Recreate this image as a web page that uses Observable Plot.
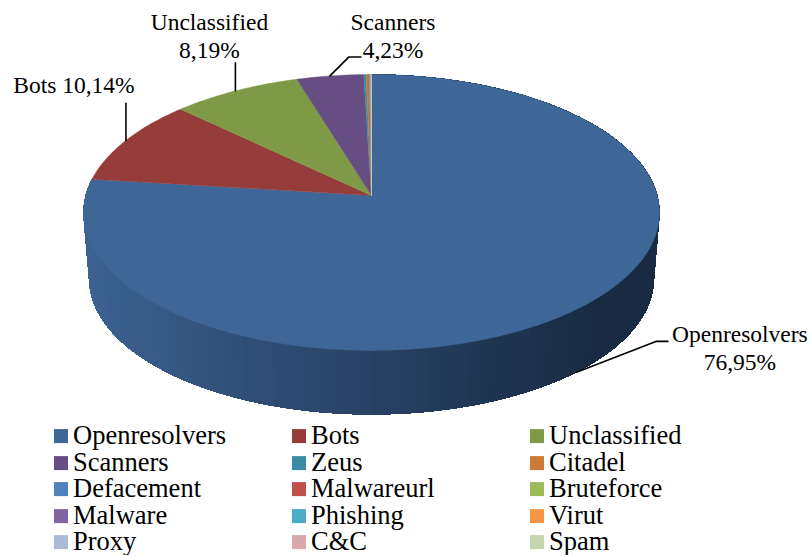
<!DOCTYPE html>
<html><head><meta charset="utf-8">
<script src="https://cdn.jsdelivr.net/npm/d3@7"></script>
<script src="https://cdn.jsdelivr.net/npm/@observablehq/plot@0.6"></script>
<style>
html,body{margin:0;padding:0;background:#fff;overflow:hidden}
#legend{display:grid;grid-template-columns:238px 238px 238px;grid-auto-rows:26.6px;padding-left:54px;height:133px;margin-top:-1.4px;
 font:26.5px "Liberation Serif",serif;color:#000}
#legend div{display:flex;align-items:center;white-space:nowrap}
#legend i{display:block;width:14px;height:14px;margin-right:5px;flex:none;transform:translateY(1.1px)}
#legend span{display:block;line-height:24px;height:24px}
</style></head><body>
<div id="chart"></div><div id="legend"></div>
<script>
const names = ["Openresolvers","Bots","Unclassified","Scanners","Zeus","Citadel","Defacement","Malwareurl","Bruteforce","Malware","Phishing","Virut","Proxy","C&C","Spam"];
const values = [76.95,10.14,8.19,4.23,0.15,0.12,0.03,0.05,0.04,0.02,0.03,0.02,0.01,0.01,0.01];
const colors = ["#3e6797","#963c3a","#7e9a47","#674e82","#3a8ba3","#cc7a35","#4f81bd","#c0504d","#9bbb59","#8064a2","#4bacc6","#f79646","#aabad7","#d9aaa9","#c6d6ac"];

// layout of the tilted disc
const W = 811, H = 423;
const cx = 371, cy = 195, R = 285.8, S = 135.9, k = 0.123, depth = 67, shrink = 0.98;
const project = (a, low) => {
  const u = Math.sin(a), v = -Math.cos(a), s = low ? shrink : 1, p = 1 - k * v;
  return {x: cx + s * R * u / p, y: cy + (low ? depth : 0) + s * S * v / p};
};
const arcs = d3.pie().sort(null).value(d => d)(values).map((d, i) => ({...d, name: names[i]}));
const steps = (a0, a1, n) => d3.range(n + 1).map(i => a0 + (a1 - a0) * i / n);

// top faces
const faces = arcs.flatMap(d => {
  const n = Math.max(2, Math.ceil((d.endAngle - d.startAngle) * 60));
  const pts = steps(d.startAngle, d.endAngle, n).map(a => project(a, false));
  return [{x: cx, y: cy}, ...pts, {x: cx, y: cy}].map(p => ({...p, name: d.name}));
});

// side wall of the front slice, shaded from left to right
const shade = d3.scaleLinear().domain([84, 250, 371, 500, 600, 659])
  .range(["#3d6291", "#2f4e76", "#284264", "#1e3450", "#182b43", "#182b43"]).clamp(true);
const wall = (() => {
  const d = arcs[0], as = steps(d.startAngle, d.endAngle, 140), out = [];
  as.slice(0, -1).forEach((a, i) => {
    const b = as[i + 1], t0 = project(a, false), t1 = project(b, false), b0 = project(a, true), b1 = project(b, true);
    const c = shade((t0.x + t1.x) / 2);
    [t0, t1, b1, b0, t0].forEach(p => out.push({...p, key: i, c}));
  });
  return out;
})();

// leader lines start at the middle of each slice's rim; bends are offsets from that point
const mid = d => (d.startAngle + d.endAngle) / 2;
const label = (i, oneLine) => names[i] + (oneLine ? " " : "\n") + values[i].toFixed(2).replace(".", ",") + "%";
const callouts = [
  {i: 0, low: true,  bend: [80, -31], end: [92, -31], text: [164, -25], oneLine: false},
  {i: 1, low: false, bend: [0, -37],  end: [0, -37],  text: [-52, -56], oneLine: true},
  {i: 2, low: false, bend: [0, -28],  end: [0, -28],  text: [-26, -56], oneLine: false},
  {i: 3, low: false, bend: [19, -19], end: [31, -19], text: [63, -41], oneLine: false}
].map(c => ({...c, o: project(mid(arcs[c.i]), c.low)}));
const leaders = callouts.flatMap(c => [
  {x: c.o.x, y: c.o.y, key: c.i},
  {x: c.o.x + c.bend[0], y: c.o.y + c.bend[1], key: c.i},
  {x: c.o.x + c.end[0], y: c.o.y + c.end[1], key: c.i}
]);
const texts = callouts.map(c => ({x: c.o.x + c.text[0], y: c.o.y + c.text[1], t: label(c.i, c.oneLine)}));

const chart = Plot.plot({
  width: W, height: H, margin: 0,
  x: {domain: [0, W], range: [0, W], axis: null},
  y: {domain: [0, H], range: [0, H], axis: null},
  color: {domain: names, range: colors},
  style: {fontFamily: '"Liberation Serif",serif', background: "#fff", color: "#000"},
  marks: [
    Plot.line(wall, {x: "x", y: "y", z: "key", curve: "linear", shapeRendering: "crispEdges",
      fill: {value: "c", scale: null}, stroke: {value: "c", scale: null}, strokeWidth: 1}),
    Plot.line(faces, {x: "x", y: "y", z: "name", curve: "linear", fill: "name", stroke: "name", strokeWidth: 0.4}),
    Plot.line(leaders, {x: "x", y: "y", z: "key", curve: "linear", stroke: "#000", strokeWidth: 1.6}),
    Plot.text(texts, {x: "x", y: "y", text: "t", fontSize: 23.5, lineHeight: 1.19, fill: "#000", textAnchor: "middle"})
  ]
});
document.getElementById("chart").append(chart);
chart.style.display = "block";

const legend = d3.select("#legend");
names.forEach((n, i) => {
  const row = legend.append("div");
  row.append("i").style("background", colors[i]);
  row.append("span").text(n);
});
</script>
</body></html>
